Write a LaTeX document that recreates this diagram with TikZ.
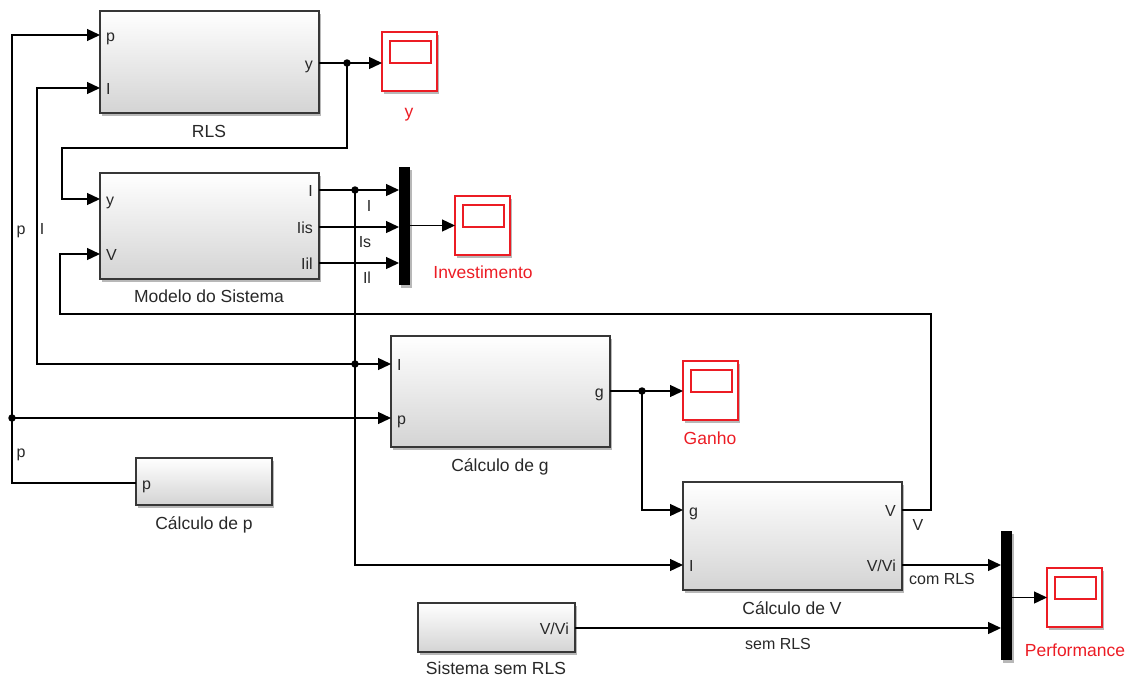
\documentclass[tikz,border=0pt]{standalone}
\usepackage{fontspec}
\setmainfont{Liberation Sans}
\usetikzlibrary{arrows.meta,shadows,calc}
\definecolor{sigred}{RGB}{236,28,36}
\definecolor{blkborder}{RGB}{55,55,55}
\definecolor{txt}{RGB}{40,40,40}
\tikzset{
  shd/.style={drop shadow={shadow xshift=2pt,shadow yshift=-2.5pt,opacity=0.28,fill=black}},
  blk/.style={draw=blkborder,line width=1.6pt,top color=white,bottom color=black!17,shd,anchor=north west,inner sep=0pt,outer sep=0pt},
  scp/.style={draw=sigred,line width=1.5pt,fill=white,shd,anchor=north west,inner sep=0pt,outer sep=0pt,minimum width=55pt,minimum height=59pt},
  scpin/.style={draw=sigred,line width=1.5pt},
  mux/.style={fill=black,shd,anchor=north west,inner sep=0pt,outer sep=0pt,minimum width=11pt},
  wire/.style={line width=1.3pt,draw=black},
  sig/.style={wire,-{Triangle[length=13pt,width=12pt]}},
  jdot/.style={circle,fill=black,inner sep=0pt,minimum size=7.5pt},
  lbase/.style={font=\fontsize{16}{19}\selectfont,text=txt,inner sep=0pt,yshift=-3.5pt},
  portl/.style={lbase,anchor=mid west},
  portr/.style={lbase,anchor=mid east},
  slbl/.style={lbase,anchor=mid},
  bname/.style={font=\fontsize{17.5}{21}\selectfont,text=txt,inner sep=0pt,anchor=mid,yshift=-3.5pt},
  sname/.style={bname,text=sigred}
}
\begin{document}
\begin{tikzpicture}[x=1pt,y=-1pt]
\useasboundingbox (0,0) rectangle (1132,678);
% blocks
\node[blk,minimum width=219pt,minimum height=102pt] (rls) at (100,11) {};
\node[blk,minimum width=219pt,minimum height=106pt] (ms) at (100,173) {};
\node[blk,minimum width=219pt,minimum height=111pt] (cg) at (391,336) {};
\node[blk,minimum width=136pt,minimum height=47pt] (cp) at (136,458) {};
\node[blk,minimum width=219pt,minimum height=108pt] (cv) at (683,482) {};
\node[blk,minimum width=157pt,minimum height=49pt] (ssr) at (418,603) {};
% muxes
\node[mux,minimum height=118pt] (mx1) at (399,167) {};
\node[mux,minimum height=129pt] (mx2) at (1001,531) {};
% scopes
\node[scp] (scY) at (382,32) {};
\node[scp] (scI) at (455,196) {};
\node[scp] (scG) at (683,361) {};
\node[scp] (scP) at (1047,568) {};
\foreach \s in {scY,scI,scG,scP}{
  \draw[scpin] ($(\s.north west)+(8,9)$) rectangle ++(41,22);
}
% ports
\coordinate (rls-p) at (100,35);
\coordinate (rls-l) at (100,88);
\coordinate (rls-y) at (319,63);
\coordinate (ms-y) at (100,199);
\coordinate (ms-V) at (100,254);
\coordinate (ms-I) at (319,190);
\coordinate (ms-Iis) at (319,227);
\coordinate (ms-Iil) at (319,263);
\coordinate (cg-I) at (391,364);
\coordinate (cg-p) at (391,418);
\coordinate (cg-g) at (610,391);
\coordinate (cp-p) at (136,483);
\coordinate (cv-g) at (683,510);
\coordinate (cv-I) at (683,565);
\coordinate (cv-V) at (902,510);
\coordinate (cv-VVi) at (902,565);
\coordinate (ssr-VVi) at (575,628);
% port labels
\node[portl] at ($(rls-p)+(6,0)$) {p};
\node[portl] at ($(rls-l)+(6,0)$) {I};
\node[portr] at ($(rls-y)+(-6,0)$) {y};
\node[portl] at ($(ms-y)+(6,0)$) {y};
\node[portl] at ($(ms-V)+(6,0)$) {V};
\node[portr] at ($(ms-I)+(-6,0)$) {I};
\node[portr] at ($(ms-Iis)+(-6,0)$) {Iis};
\node[portr] at ($(ms-Iil)+(-6,0)$) {Iil};
\node[portl] at ($(cg-I)+(6,0)$) {I};
\node[portl] at ($(cg-p)+(6,0)$) {p};
\node[portr] at ($(cg-g)+(-6,0)$) {g};
\node[portl] at ($(cp-p)+(6,0)$) {p};
\node[portl] at ($(cv-g)+(6,0)$) {g};
\node[portl] at ($(cv-I)+(6,0)$) {I};
\node[portr] at ($(cv-V)+(-6,0)$) {V};
\node[portr] at ($(cv-VVi)+(-6,0)$) {V/Vi};
\node[portr] at ($(ssr-VVi)+(-6,0)$) {V/Vi};
% block names
\node[bname] at (209,131) {RLS};
\node[bname] at (209,296) {Modelo do Sistema};
\node[bname] at (500,465) {Cálculo de g};
\node[bname] at (204,523) {Cálculo de p};
\node[bname] at (792,608) {Cálculo de V};
\node[bname] at (496,668) {Sistema sem RLS};
\node[sname] at (409,111) {y};
\node[sname] at (483,272) {Investimento};
\node[sname] at (710,438) {Ganho};
\node[sname] at (1075,650) {Performance};
% junctions
\node[jdot] (j1) at (347,63) {};
\node[jdot] (j2) at (355,190) {};
\node[jdot] (j3) at (355,364) {};
\node[jdot] (j4) at (12,418) {};
\node[jdot] (j5) at (642,391) {};
% connectors
\draw[sig] (rls-y) -- (scY.west |- rls-y);
\draw[sig] (j1.center) -- (347,148) -- (62,148) -- (62,199) -- (ms-y);
\draw[sig] (ms-I) -- (mx1.west |- ms-I);
\draw[sig] (ms-Iis) -- (mx1.west |- ms-Iis);
\draw[sig] (ms-Iil) -- (mx1.west |- ms-Iil);
\draw[sig] (mx1.east |- scI.west) -- (scI.west);
\draw[sig] (j2.center) |- (cv-I);
\draw[sig] (j3.center) -- (cg-I);
\draw[sig] (j3.center) -- (37,364) -- (37,88) -- (rls-l);
\draw[sig] (cp-p) -- (12,483) -- (12,35) -- (rls-p);
\draw[sig] (j4.center) -- (cg-p);
\draw[sig] (cv-V) -- (931,510) -- (931,314) -- (60,314) -- (60,254) -- (ms-V);
\draw[sig] (cg-g) -- (scG.west |- cg-g);
\draw[sig] (j5.center) |- (cv-g);
\draw[sig] (cv-VVi) -- (mx2.west |- cv-VVi);
\draw[sig] (ssr-VVi) -- (mx2.west |- ssr-VVi);
\draw[sig] (mx2.east |- scP.west) -- (scP.west);
% signal labels
\node[slbl] at (21,228) {p};
\node[slbl] at (42,228) {I};
\node[slbl] at (21,451) {p};
\node[slbl] at (369,205) {I};
\node[slbl] at (365,241) {Is};
\node[slbl] at (367,277) {Il};
\node[slbl] at (918,524) {V};
\node[slbl] at (942,578) {com RLS};
\node[slbl] at (778,643) {sem RLS};
\end{tikzpicture}
\end{document}
